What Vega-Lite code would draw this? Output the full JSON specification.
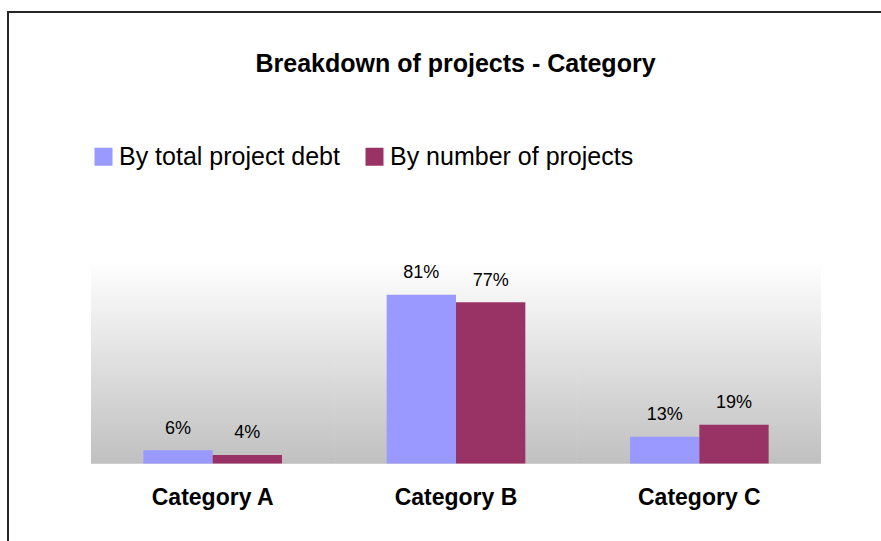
{
  "$schema": "https://vega.github.io/schema/vega-lite/v6.json",
  "autosize": {"type": "none"},
  "padding": {"left": 8, "top": 12, "right": -2, "bottom": -2},
  "width": 875,
  "height": 531,
  "background": "white",
  "title": {
    "text": "Breakdown of projects - Category",
    "font": "Liberation Sans",
    "fontSize": 25,
    "fontWeight": "bold",
    "color": "black",
    "anchor": "middle",
    "frame": "group",
    "offset": 0,
    "baseline": "alphabetic",
    "dy": 85,
    "dx": 10
  },
  "data": {
    "values": [
      {"category": "Category A", "measure": "By total project debt", "value": 0.064},
      {"category": "Category A", "measure": "By number of projects", "value": 0.041},
      {"category": "Category B", "measure": "By total project debt", "value": 0.81},
      {"category": "Category B", "measure": "By number of projects", "value": 0.774},
      {"category": "Category C", "measure": "By total project debt", "value": 0.128},
      {"category": "Category C", "measure": "By number of projects", "value": 0.186}
    ]
  },
  "config": {
    "font": "Liberation Sans",
    "view": {"stroke": "#262626", "strokeWidth": 2}
  },
  "encoding": {
    "x": {
      "field": "category",
      "type": "nominal",
      "scale": {"range": [83, 813], "paddingInner": 0, "paddingOuter": 0},
      "axis": {
        "orient": "bottom",
        "title": null,
        "labelAngle": 0,
        "ticks": false,
        "tickSize": 0,
        "domain": false,
        "grid": false,
        "labelFont": "Liberation Sans",
        "labelFontSize": 23,
        "labelFontWeight": "bold",
        "labelColor": "black",
        "labelPadding": 0,
        "labelBaseline": "alphabetic",
        "offset": -39
      }
    }
  },
  "layer": [
    {
      "mark": {
        "type": "bar",
        "color": {
          "gradient": "linear",
          "x1": 0, "y1": 0, "x2": 0, "y2": 1,
          "stops": [
            {"offset": 0, "color": "#ffffff"},
            {"offset": 1, "color": "#c0c0c0"}
          ]
        }
      },
      "encoding": {
        "y": {
          "datum": 0.97,
          "type": "quantitative",
          "scale": {"domain": [0, 0.97], "range": [451.5, 249.5], "nice": false, "zero": true},
          "axis": null
        },
        "y2": {"datum": 0}
      }
    },
    {
      "mark": {"type": "bar"},
      "encoding": {
        "xOffset": {
          "field": "measure",
          "type": "nominal",
          "sort": ["By total project debt", "By number of projects"],
          "scale": {"paddingInner": 0, "paddingOuter": 0.755}
        },
        "y": {"field": "value", "type": "quantitative"},
        "color": {
          "field": "measure",
          "type": "nominal",
          "scale": {
            "domain": ["By total project debt", "By number of projects"],
            "range": ["#9999ff", "#993366"]
          },
          "legend": {
            "orient": "none",
            "legendX": 83,
            "legendY": 132,
            "direction": "horizontal",
            "title": null,
            "symbolType": "square",
            "symbolSize": 324,
            "symbolStrokeWidth": 0,
            "labelFont": "Liberation Sans",
            "labelFontSize": 25,
            "labelColor": "black",
            "labelLimit": 400,
            "labelOffset": 3,
            "columnPadding": 22,
            "padding": 0
          }
        }
      }
    },
    {
      "mark": {"type": "text", "dy": -16.5, "baseline": "alphabetic", "fontSize": 18, "color": "black", "font": "Liberation Sans"},
      "encoding": {
        "xOffset": {
          "field": "measure",
          "type": "nominal",
          "sort": ["By total project debt", "By number of projects"]
        },
        "y": {"field": "value", "type": "quantitative"},
        "text": {"field": "value", "type": "quantitative", "format": ".0%"}
      }
    }
  ]
}
